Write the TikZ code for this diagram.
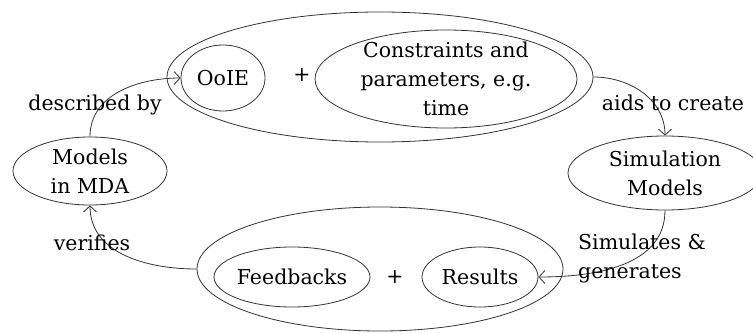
\documentclass[tikz,border=0pt]{standalone}
\usepackage{fontspec}
\setmainfont{DejaVu Serif}
\usepackage{tikz}
\usetikzlibrary{shapes.geometric, arrows.meta, positioning}

\begin{document}
\begin{tikzpicture}[x=1pt, y=1pt,
    oval/.style={ellipse, draw=black!80, line width=0.8pt, inner sep=0pt},
    txt/.style={font=\fontsize{20.5}{29}\selectfont, align=center, inner sep=0pt},
    arrow/.style={-{Straight Barb[length=6pt, width=13pt]}, draw=black!80, line width=0.8pt}
]
    \useasboundingbox (0,0) rectangle (753,333);

    % Top group
    \node[oval, minimum width=426, minimum height=130] (env) at (380,256) {};
    \node[oval, minimum width=84, minimum height=66] (ooie) at (223,255) {};
    \node[txt] at (ooie) {OoIE};
    \node[txt] (plusa) at (302,258) {+};
    \node[oval, minimum width=262, minimum height=98] (cons) at (446,254) {};
    \node[txt] at (cons) {Constraints and\\parameters, e.g.\\time};

    % Side nodes
    \node[oval, minimum width=194, minimum height=74] (sim) at (665,160) {};
    \node[txt] at (sim) {Simulation\\Models};
    \node[oval, minimum width=154, minimum height=68] (mda) at (90,162) {};
    \node[txt] at (mda) {Models\\in MDA};

    % Bottom group
    \node[oval, minimum width=366, minimum height=124] (out) at (380,64) {};
    \node[oval, minimum width=156, minimum height=60] (feed) at (292,56) {};
    \node[txt] at (feed) {Feedbacks};
    \node[txt] (plusb) at (395,56) {+};
    \node[oval, minimum width=116, minimum height=60] (res) at (480,56) {};
    \node[txt] at (res) {Results};

    % Arrows
    \draw[arrow] (mda.north) to[out=90, in=180] (ooie.west);
    \draw[arrow] (env.east) to[out=0, in=90] (sim.north);
    \draw[arrow] (sim.south) to[out=-90, in=0] (res.east);
    \draw[arrow] (out.west) to[out=180, in=-90] (mda.south);

    % Labels
    \node[txt] (ldesc) at (95,228) {described by};
    \node[txt] (laids) at (673,230) {aids to create};
    \node[txt, align=left, anchor=west] (lsim) at (578,75) {Simulates \&\\generates};
    \node[txt] (lver) at (92,90) {verifies};
\end{tikzpicture}
\end{document}
